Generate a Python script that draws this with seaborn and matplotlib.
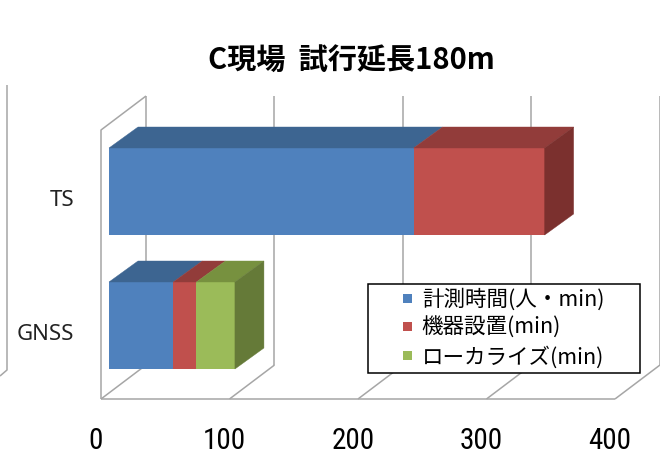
import matplotlib
matplotlib.use("Agg")
import matplotlib.pyplot as plt
from matplotlib.patches import Polygon, Patch, Rectangle
from matplotlib.lines import Line2D
from matplotlib.legend_handler import HandlerPatch
from matplotlib import font_manager
import seaborn as sns
import pandas as pd

# ---- data -------------------------------------------------------------
categories = ["TS", "GNSS"]
series_names = ["計測時間(人・min)", "機器設置(min)", "ローカライズ(min)"]
measure_time = [237, 50]     # 計測時間(人・min)
setup_time = [102, 18]       # 機器設置(min)
localize_time = [0, 30]      # ローカライズ(min)
x_ticks = [0, 100, 200, 300, 400]
title = "C現場  試行延長180m"

# ---- colours (front / top / side faces) -------------------------------
front_c = ["#4F81BD", "#C0504D", "#9BBB59"]
top_c = ["#3D6591", "#923C3A", "#77913F"]
side_c = ["#35587F", "#7B302E", "#657A38"]
grid_c = "#A6A6A6"

sns.set_theme(style="white")
plt.rcParams["font.family"] = ["Noto Sans CJK JP", "DejaVu Sans"]

# narrow face for the value labels
names = {f.name for f in font_manager.fontManager.ttflist}
narrow = [n for n in ["Liberation Sans Narrow", "Arial Narrow", "Roboto Condensed",
                      "Open Sans Condensed", "Roboto"] if n in names]
tick_family = narrow[:1] + ["DejaVu Sans"]

W, H = 660, 459
fig = plt.figure(figsize=(W / 100, H / 100), dpi=100)
ax = fig.add_axes([0, 0, 1, 1])

# scale of the value axis and of the category axis (pixels per unit)
SX, SY = 1.285, 134.0
X0, Y0 = 109, 191.5          # value 0 / first category centre on the bar front plane
BAR_W = 87 / SY


def p2d(xp, yp):
    """pixel position (from top-left) -> data coordinates"""
    return (xp - X0) / SX, (yp - Y0) / SY


# depth of the bars and of the whole floor (oblique projection)
BDX, BDY = 29 / SX, -21 / SY
FDX, FDY = 45 / SX, -34 / SY
FX = -8 / SX                        # floor front edge sits in front of the bars
FLOOR_C = p2d(0, 399)[1]
TOP_FRONT_C = p2d(0, 130)[1]
TOP_BACK_C = p2d(0, 96)[1]

# ---- walls, floor and gridlines --------------------------------------
lkw = dict(color=grid_c, lw=1.1, solid_capstyle="butt", zorder=1)
for v in x_ticks:
    xb = v + FX + FDX
    ax.add_line(Line2D([xb, xb], [FLOOR_C + FDY, TOP_BACK_C], **lkw))
    ax.add_line(Line2D([v + FX, xb], [FLOOR_C, FLOOR_C + FDY], **lkw))
ax.add_line(Line2D([x_ticks[0] + FX, x_ticks[-1] + FX], [FLOOR_C, FLOOR_C], **lkw))
# left side wall
ax.add_line(Line2D([FX, FX, FX + FDX], [FLOOR_C, TOP_FRONT_C, TOP_BACK_C], **lkw))
# outer wall edge at the far left
ox = [p2d(7, 0)[0], p2d(7, 0)[0], p2d(0, 0)[0]]
oy = [p2d(0, 85)[1], p2d(0, 370)[1], p2d(0, 376)[1]]
ax.add_line(Line2D(ox, oy, **lkw))

# ---- bars: front faces (stacked via cumulative sums) ------------------
df = pd.DataFrame({"cat": categories, "m": measure_time,
                   "s": setup_time, "l": localize_time})
cols = ["m", "s", "l"]
cum = df[cols].cumsum(axis=1)
cum["cat"] = df["cat"]
for i in reversed(range(3)):
    sns.barplot(data=cum, x=cols[i], y="cat", orient="h", color=front_c[i],
                saturation=1, width=BAR_W, linewidth=0, errorbar=None,
                ax=ax, zorder=3)

# ---- bars: top and side faces ----------------------------------------
for j in range(len(categories)):
    c_top = j - BAR_W / 2
    c_bot = j + BAR_W / 2
    start = 0
    last = None
    for i, col in enumerate(cols):
        val = df[col].iloc[j]
        if val <= 0:
            continue
        x0, x1 = start, start + val
        ax.add_patch(Polygon([(x0, c_top), (x1, c_top),
                              (x1 + BDX, c_top + BDY), (x0 + BDX, c_top + BDY)],
                             closed=True, facecolor=top_c[i], edgecolor=top_c[i],
                             lw=0.3, zorder=3))
        start = x1
        last = i
    ax.add_patch(Polygon([(start, c_top), (start + BDX, c_top + BDY),
                          (start + BDX, c_bot + BDY), (start, c_bot)],
                         closed=True, facecolor=side_c[last], edgecolor=side_c[last],
                         lw=0.3, zorder=3))

# ---- limits ---------------------------------------------------------
ax.set_xlim(p2d(0, 0)[0], p2d(W, 0)[0])
ax.set_ylim(p2d(0, H)[1], p2d(0, 0)[1])
ax.axis("off")

# ---- texts ------------------------------------------------------------
for v in x_ticks:
    ax.text(v + FX - 5 / SX, p2d(0, 441)[1], str(v), ha="center", va="center",
            fontsize=21, color="black", zorder=5, family=tick_family)
for j, cat in enumerate(categories):
    ax.text(p2d(74, 0)[0], j + 8.5 / SY, cat, ha="right", va="center",
            fontsize=16, family=["Noto Sans", "DejaVu Sans"], color="#222222",
            zorder=5)

fig.text(351 / W, 1 - 61 / H, title, ha="center", va="center",
         fontsize=21, fontweight="bold", color="black")


# legend swatches: small squares sitting at the right end of the handle box
def small_square(legend, orig_handle, xdescent, ydescent, width, height, fontsize):
    s = 6.5
    return Rectangle((width - s - xdescent, (height - s) / 2 - ydescent), s, s)


handles = [Patch(facecolor=c, edgecolor="none") for c in front_c]
leg = ax.legend(handles, series_names, loc="upper left",
                bbox_to_anchor=(368 / W, 1 - 371 / H, 272 / W, 87 / H),
                bbox_transform=fig.transFigure, mode="expand",
                frameon=True, fancybox=False, edgecolor="black",
                fontsize=15.5, handlelength=1.85, handleheight=0.45,
                handletextpad=0.45, labelspacing=0.3, borderpad=0.2,
                borderaxespad=0, labelcolor="black",
                handler_map={Patch: HandlerPatch(patch_func=small_square)})
leg.get_frame().set_linewidth(1.1)
leg.get_frame().set_alpha(1)
leg.set_zorder(6)

fig.savefig("out.png", dpi=100)
